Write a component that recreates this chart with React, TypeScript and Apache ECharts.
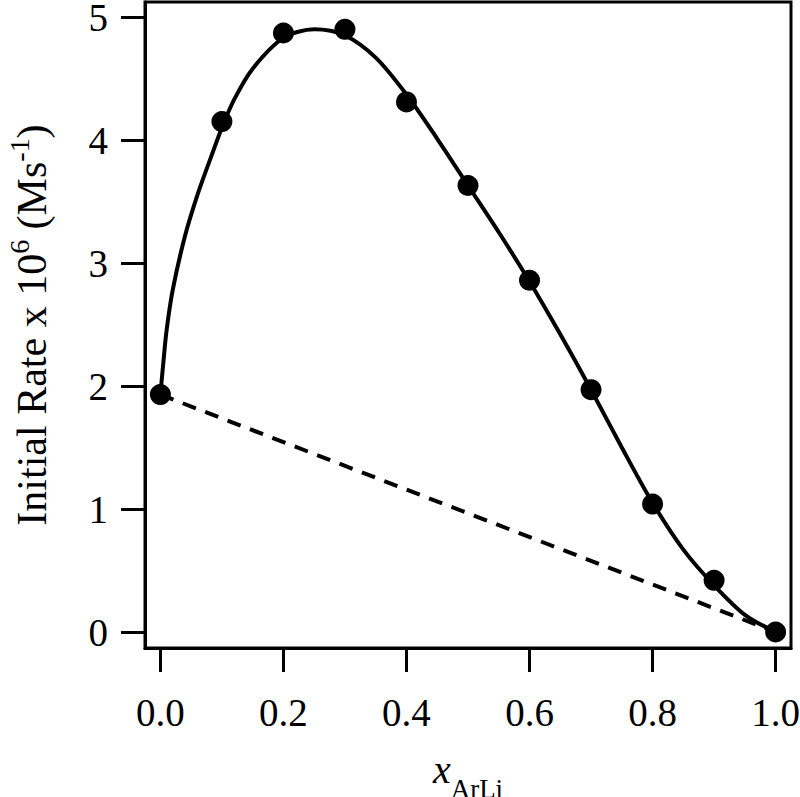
import React, { useEffect, useRef } from "react";
import * as echarts from "echarts";

// measured points
const xValues = [0.0, 0.1, 0.2, 0.3, 0.4, 0.5, 0.6, 0.7, 0.8, 0.9, 1.0];
const rateValues = [1.93, 4.15, 4.87, 4.9, 4.31, 3.63, 2.86, 1.97, 1.04, 0.42, 0.0];

// fitted curve
const fitX = [0, 0.005, 0.01, 0.02, 0.04, 0.06, 0.08, 0.1, 0.12, 0.15, 0.2, 0.25, 0.3, 0.35, 0.4, 0.45, 0.5, 0.55, 0.6, 0.65, 0.7, 0.75, 0.8, 0.85, 0.9, 0.95, 1.0];
const fitY = [1.93, 2.2, 2.45, 2.78, 3.22, 3.55, 3.83, 4.1, 4.33, 4.58, 4.83, 4.9, 4.85, 4.67, 4.37, 4.01, 3.63, 3.25, 2.85, 2.42, 1.97, 1.5, 1.05, 0.67, 0.38, 0.14, 0.0];

const xTicks = [0.0, 0.2, 0.4, 0.6, 0.8, 1.0];
const yTicks = [0, 1, 2, 3, 4, 5];

const FONT = "Liberation Serif";

export default function App() {
  const ref = useRef<HTMLDivElement>(null);
  useEffect(() => {
    if (!ref.current) return;
    const chart = echarts.init(ref.current, null, { renderer: "svg" });
    const fitData = fitX.map((x, i) => [x, fitY[i]]);
    const pts = xValues.map((x, i) => [x, rateValues[i]]);
    const n = xValues.length - 1;
    const dashData = [
      [xValues[0], rateValues[0]],
      [xValues[n], rateValues[n]],
    ];
    chart.setOption({
      animation: false,
      backgroundColor: "#fff",
      grid: {
        left: 145,
        right: 9,
        top: 2,
        bottom: 149,
        show: true,
        borderColor: "#000",
        borderWidth: 3,
        outerBoundsMode: "none",
        containLabel: false,
      },
      xAxis: {
        type: "value",
        min: -0.025,
        max: 1.025,
        splitLine: { show: false },
        axisLine: { show: true, onZero: false, lineStyle: { color: "#000", width: 3 } },
        axisTick: {
          show: true,
          inside: false,
          length: 24,
          customValues: xTicks,
          lineStyle: { color: "#000", width: 3 },
        },
        axisLabel: {
          customValues: xTicks,
          formatter: (v: number) => v.toFixed(1),
          fontFamily: FONT,
          fontSize: 39,
          color: "#000",
          margin: 45,
        },
        name: "{x|x}{sub|ArLi}",
        nameLocation: "middle",
        nameGap: 89,
        nameTextStyle: {
          rich: {
            x: { fontFamily: FONT, fontStyle: "italic", fontSize: 40, color: "#000" },
            sub: { fontFamily: FONT, fontSize: 27, color: "#000", padding: [38, 0, 0, 0] },
          },
        },
      },
      yAxis: {
        type: "value",
        min: -0.13,
        max: 5.122,
        splitLine: { show: false },
        axisLine: { show: true, onZero: false, lineStyle: { color: "#000", width: 3 } },
        axisTick: {
          show: true,
          inside: false,
          length: 24,
          customValues: yTicks,
          lineStyle: { color: "#000", width: 3 },
        },
        axisLabel: {
          customValues: yTicks,
          formatter: (v: number) => String(v),
          fontFamily: FONT,
          fontSize: 39,
          lineHeight: 30,
          color: "#000",
          margin: 37,
        },
        name: "{t|Initial Rate x 10}{sup|6}{t| (Ms}{sup|-1}{t|)}",
        nameLocation: "middle",
        nameGap: 86,
        nameRotate: 90,
        nameTextStyle: {
          rich: {
            t: { fontFamily: FONT, fontSize: 42, color: "#000" },
            sup: { fontFamily: FONT, fontSize: 28, color: "#000", padding: [0, 0, 26, 0] },
          },
        },
      },
      series: [
        {
          type: "line",
          data: dashData,
          symbol: "none",
          lineStyle: { color: "#000", width: 4, type: [14, 10] },
          z: 2,
        },
        {
          type: "line",
          data: fitData,
          symbol: "none",
          smooth: 0.3,
          lineStyle: { color: "#000", width: 4 },
          z: 3,
        },
        {
          type: "scatter",
          data: pts,
          symbol: "circle",
          symbolSize: 21,
          itemStyle: { color: "#000", opacity: 1 },
          z: 4,
        },
      ],
    });
    return () => chart.dispose();
  }, []);
  return (
    <div
      ref={ref}
      style={{ position: "fixed", left: 0, top: 0, width: 800, height: 797 }}
    />
  );
}
